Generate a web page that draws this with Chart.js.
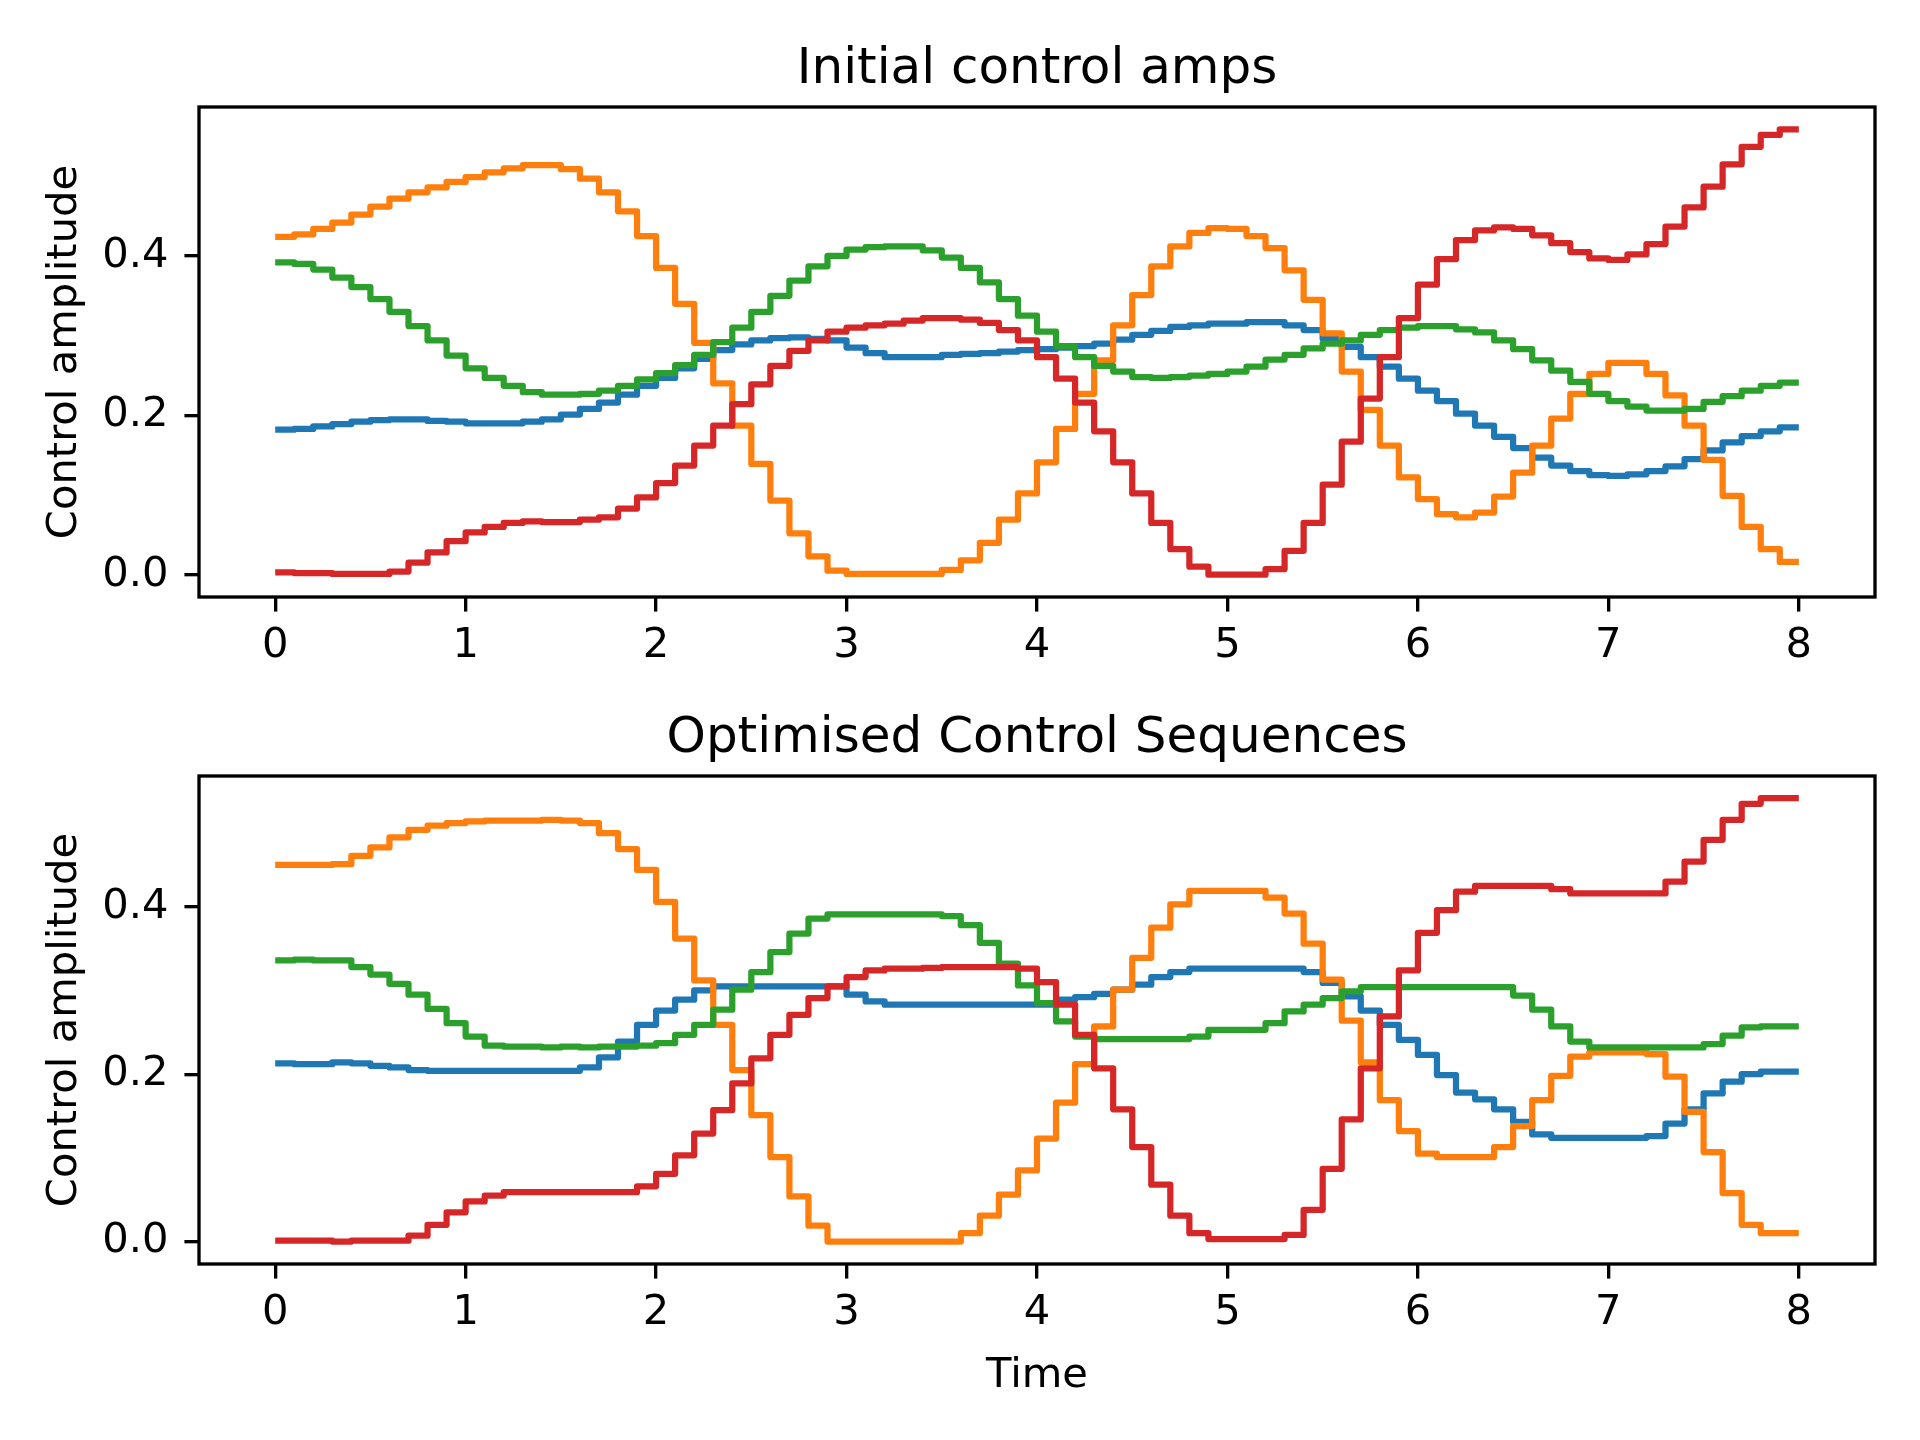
<!DOCTYPE html>
<html>
<head>
<meta charset="utf-8">
<script src="https://cdn.jsdelivr.net/npm/chart.js@4.4.1/dist/chart.umd.min.js"></script>
<style>
  html, body { margin: 0; padding: 0; background: #fff; }
  #wrap { position: relative; width: 1920px; height: 1440px; }
  canvas { position: absolute; left: 0; }
</style>
</head>
<body>
<div id="wrap">
  <canvas id="initial" width="1920" height="690" style="top:0"></canvas>
  <canvas id="optimised" width="1920" height="750" style="top:690px"></canvas>
</div>
<script>
// 80 time slots of 0.1 over an evolution time of 8
const nSlots = 80;
const evoTime = 8;
const xTicks = [0, 1, 2, 3, 4, 5, 6, 7, 8];
const yTicks = [0.0, 0.2, 0.4];

// initial control amplitudes, one value per slot
const initBlue = [0.182,0.183,0.186,0.189,0.192,0.194,0.195,0.195,0.193,0.192,
  0.190,0.190,0.190,0.192,0.195,0.201,0.208,0.216,0.226,0.237,
  0.247,0.259,0.271,0.282,0.289,0.294,0.297,0.298,0.296,0.294,
  0.285,0.278,0.273,0.273,0.273,0.276,0.277,0.278,0.280,0.282,
  0.283,0.285,0.287,0.290,0.295,0.301,0.306,0.311,0.313,0.315,
  0.315,0.317,0.317,0.313,0.307,0.296,0.286,0.273,0.261,0.246,
  0.231,0.218,0.202,0.187,0.173,0.159,0.147,0.137,0.130,0.125,
  0.124,0.126,0.130,0.136,0.145,0.156,0.166,0.174,0.180,0.185];
const initOrange = [0.424,0.427,0.434,0.442,0.452,0.462,0.472,0.480,0.486,0.493,
  0.499,0.505,0.510,0.514,0.514,0.509,0.497,0.480,0.456,0.425,
  0.385,0.340,0.291,0.240,0.187,0.139,0.093,0.052,0.023,0.005,
  0.001,0.001,0.001,0.001,0.001,0.006,0.018,0.040,0.069,0.102,
  0.141,0.183,0.227,0.269,0.313,0.351,0.387,0.412,0.429,0.435,
  0.434,0.425,0.410,0.382,0.345,0.303,0.255,0.207,0.162,0.122,
  0.095,0.076,0.072,0.078,0.098,0.128,0.162,0.196,0.227,0.252,
  0.266,0.266,0.252,0.225,0.187,0.144,0.099,0.060,0.032,0.016];
const initGreen = [0.392,0.390,0.383,0.373,0.361,0.346,0.330,0.312,0.294,0.275,
  0.259,0.247,0.237,0.229,0.226,0.226,0.227,0.231,0.237,0.245,
  0.253,0.263,0.276,0.292,0.310,0.330,0.350,0.369,0.387,0.400,
  0.408,0.411,0.412,0.412,0.407,0.398,0.385,0.367,0.346,0.325,
  0.305,0.287,0.273,0.262,0.255,0.248,0.247,0.248,0.250,0.252,
  0.255,0.261,0.270,0.276,0.284,0.290,0.294,0.301,0.307,0.310,
  0.312,0.312,0.308,0.304,0.294,0.283,0.269,0.256,0.242,0.227,
  0.218,0.211,0.206,0.206,0.208,0.217,0.224,0.231,0.237,0.241];
const initRed = [0.003,0.002,0.002,0.001,0.001,0.001,0.004,0.015,0.028,0.042,
  0.053,0.060,0.065,0.067,0.066,0.066,0.069,0.072,0.083,0.097,
  0.115,0.137,0.162,0.187,0.214,0.239,0.262,0.281,0.294,0.305,
  0.310,0.313,0.315,0.319,0.322,0.322,0.320,0.316,0.307,0.294,
  0.273,0.246,0.216,0.180,0.141,0.102,0.065,0.032,0.010,0.000,
  0.000,0.000,0.007,0.030,0.065,0.113,0.167,0.221,0.273,0.322,
  0.364,0.396,0.420,0.432,0.436,0.434,0.426,0.416,0.405,0.397,
  0.395,0.402,0.415,0.437,0.461,0.487,0.515,0.537,0.552,0.559];

// optimised control amplitudes
const optBlue = [0.213,0.212,0.212,0.214,0.213,0.210,0.208,0.205,0.204,0.204,
  0.204,0.204,0.204,0.204,0.204,0.204,0.208,0.220,0.239,0.259,
  0.276,0.289,0.300,0.305,0.305,0.305,0.305,0.305,0.305,0.305,
  0.295,0.287,0.283,0.283,0.283,0.283,0.283,0.283,0.283,0.283,
  0.283,0.289,0.292,0.296,0.301,0.307,0.316,0.322,0.326,0.326,
  0.326,0.326,0.326,0.326,0.322,0.309,0.293,0.276,0.259,0.241,
  0.223,0.199,0.178,0.170,0.158,0.143,0.128,0.124,0.124,0.124,
  0.124,0.124,0.126,0.141,0.158,0.177,0.191,0.200,0.203,0.203];
const optOrange = [0.450,0.450,0.450,0.451,0.461,0.471,0.483,0.492,0.497,0.500,
  0.502,0.503,0.503,0.503,0.504,0.503,0.500,0.488,0.469,0.444,
  0.406,0.362,0.312,0.259,0.205,0.151,0.101,0.054,0.019,0.000,
  0.000,0.000,0.000,0.000,0.000,0.000,0.010,0.031,0.056,0.085,
  0.123,0.166,0.212,0.257,0.301,0.339,0.375,0.403,0.419,0.419,
  0.419,0.419,0.411,0.392,0.356,0.313,0.264,0.214,0.169,0.132,
  0.105,0.101,0.101,0.101,0.113,0.138,0.169,0.198,0.221,0.226,
  0.226,0.226,0.224,0.197,0.155,0.107,0.058,0.020,0.010,0.010];
const optGreen = [0.336,0.337,0.336,0.336,0.328,0.319,0.308,0.295,0.278,0.261,
  0.245,0.234,0.233,0.233,0.232,0.233,0.232,0.233,0.233,0.234,
  0.237,0.247,0.259,0.277,0.301,0.322,0.346,0.368,0.386,0.391,
  0.391,0.391,0.391,0.391,0.391,0.389,0.378,0.357,0.332,0.306,
  0.285,0.263,0.245,0.242,0.242,0.242,0.242,0.242,0.245,0.253,
  0.253,0.253,0.261,0.275,0.283,0.291,0.299,0.304,0.304,0.304,
  0.304,0.304,0.304,0.304,0.304,0.294,0.277,0.257,0.239,0.232,
  0.232,0.232,0.232,0.232,0.232,0.236,0.246,0.256,0.257,0.257];
const optRed = [0.001,0.001,0.001,0.000,0.001,0.001,0.001,0.007,0.020,0.035,
  0.048,0.055,0.059,0.059,0.059,0.059,0.059,0.059,0.059,0.066,
  0.081,0.103,0.129,0.157,0.189,0.219,0.247,0.271,0.291,0.305,
  0.316,0.324,0.326,0.326,0.327,0.328,0.328,0.328,0.328,0.326,
  0.310,0.283,0.247,0.207,0.158,0.113,0.068,0.031,0.010,0.003,
  0.003,0.003,0.003,0.008,0.038,0.087,0.146,0.207,0.269,0.324,
  0.369,0.396,0.418,0.425,0.425,0.425,0.425,0.421,0.416,0.416,
  0.416,0.416,0.416,0.430,0.454,0.480,0.504,0.523,0.530,0.530];

const FONT = "'DejaVu Sans', sans-serif";
const PT = 300 / 72; // figure is 6.4in x 4.8in at 300 dpi

const colors = ['#1f77b4', '#ff7f0e', '#2ca02c', '#d62728'];

const tslots = [];
for (let i = 0; i <= nSlots; i++) tslots.push(i * evoTime / nSlots);

// same as step(where='post') with the last amplitude repeated at the end
function steps(amps) {
  const vals = amps.concat([amps[amps.length - 1]]);
  return tslots.map((t, i) => ({ x: t, y: vals[i] }));
}

const frame = {
  id: 'frame',
  afterDatasetsDraw(chart) {
    const { ctx, chartArea: a } = chart;
    ctx.save();
    ctx.strokeStyle = '#000';
    ctx.lineWidth = 0.8 * PT;
    ctx.strokeRect(a.left, a.top, a.right - a.left, a.bottom - a.top);
    ctx.restore();
  }
};

function makeChart(id, title, series, yMin, yMax, titlePad, xAxisH, showXTitle) {
  const datasets = series.map((amps, j) => ({
    data: steps(amps),
    borderColor: colors[j],
    borderWidth: 1.5 * PT,
    stepped: true,
    pointRadius: 0,
    fill: false,
    borderJoinStyle: 'round',
    order: series.length - j
  }));

  return new Chart(document.getElementById(id), {
    type: 'line',
    data: { datasets },
    options: {
      responsive: false,
      devicePixelRatio: 1,
      animation: false,
      layout: { padding: { left: 0, right: 45, top: 0, bottom: 0 } },
      plugins: {
        legend: { display: false },
        tooltip: { enabled: false },
        title: {
          display: true,
          fullSize: false,
          text: title,
          color: '#000',
          font: { family: FONT, size: 12 * PT, weight: 'normal', lineHeight: 1.2 },
          padding: titlePad
        }
      },
      scales: {
        x: {
          type: 'linear',
          min: -0.4,
          max: 8.4,
          afterFit: (s) => { s.height = xAxisH; },
          afterBuildTicks: (s) => { s.ticks = xTicks.map(v => ({ value: v })); },
          ticks: {
            color: '#000',
            font: { family: FONT, size: 10 * PT },
            padding: 10,
            maxRotation: 0,
            callback: (v) => String(v)
          },
          grid: { drawOnChartArea: false, drawTicks: true, tickLength: 3.5 * PT, color: '#000', lineWidth: 0.8 * PT },
          border: { display: false },
          title: {
            display: showXTitle,
            text: 'Time',
            color: '#000',
            font: { family: FONT, size: 10 * PT },
            padding: { top: 0, bottom: 39 }
          }
        },
        y: {
          min: yMin,
          max: yMax,
          afterFit: (s) => { s.width = 199; },
          afterBuildTicks: (s) => { s.ticks = yTicks.map(v => ({ value: v })); },
          ticks: {
            color: '#000',
            font: { family: FONT, size: 10 * PT },
            padding: 16,
            callback: (v) => v.toFixed(1)
          },
          grid: { drawOnChartArea: false, drawTicks: true, tickLength: 3.5 * PT, color: '#000', lineWidth: 0.8 * PT },
          border: { display: false },
          title: {
            display: true,
            text: 'Control amplitude',
            color: '#000',
            font: { family: FONT, size: 10 * PT },
            padding: { top: 40, bottom: 0 }
          }
        }
      }
    },
    plugins: [frame]
  });
}

makeChart('initial', 'Initial control amps',
  [initBlue, initOrange, initGreen, initRed],
  -0.028, 0.587, { top: 40, bottom: 7 }, 93, false);

makeChart('optimised', 'Optimised Control Sequences',
  [optBlue, optOrange, optGreen, optRed],
  -0.0268, 0.5563, { top: 19, bottom: 7 }, 176, true);
</script>
</body>
</html>
